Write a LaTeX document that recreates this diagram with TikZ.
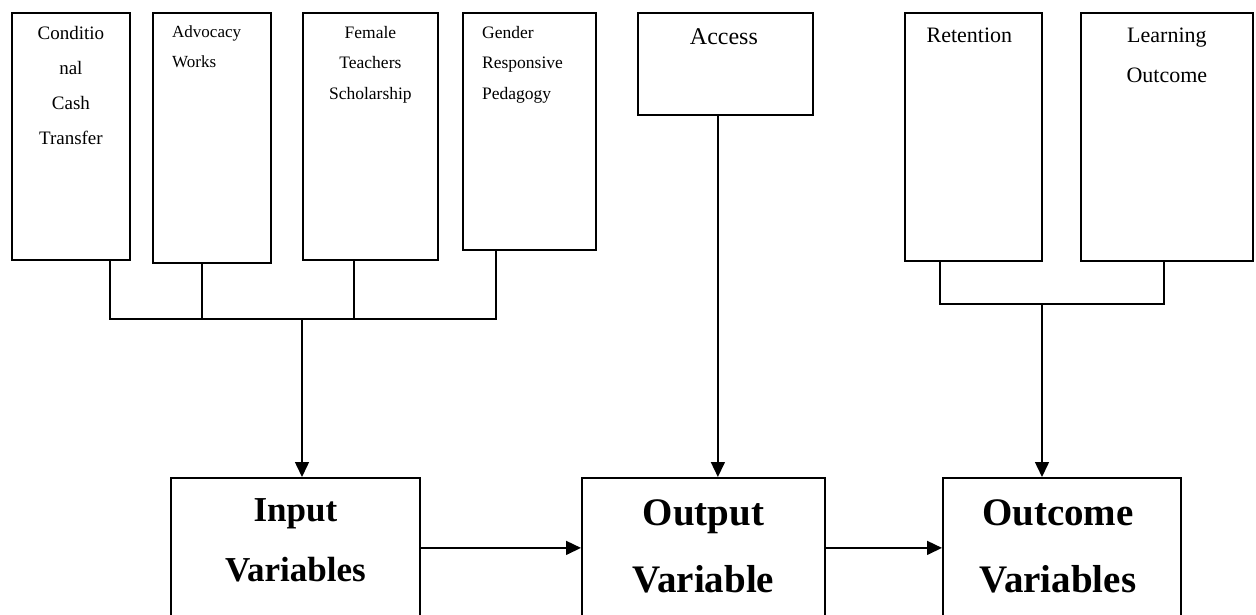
\documentclass[tikz,border=0pt]{standalone}
\usepackage{fontspec}
\setmainfont{Liberation Serif}
\usetikzlibrary{arrows.meta, positioning}

\begin{document}
\begin{tikzpicture}[x=1pt, y=-1pt,
  frame/.style={rectangle, draw=black, line width=1.8pt, anchor=north west,
                inner sep=0pt},
  lbl/.style={inner sep=0pt, anchor=north},
  link/.style={line width=1.6pt},
  arrow/.style={-{Triangle[length=15pt, width=14pt]}, line width=1.5pt}
]
  \useasboundingbox (0,0) rectangle (1256,615);
  \clip (0,0) rectangle (1256,615);

  \node[frame, minimum width=118pt, minimum height=247pt] (cct)  at (11,12)   {};
  \node[frame, minimum width=118pt, minimum height=250pt] (adv)  at (152,12)  {};
  \node[frame, minimum width=135pt, minimum height=247pt] (fts)  at (302,12)  {};
  \node[frame, minimum width=133pt, minimum height=237pt] (grp)  at (462,12)  {};
  \node[frame, minimum width=175pt, minimum height=102pt] (acc)  at (637,12)  {};
  \node[frame, minimum width=137pt, minimum height=248pt] (ret)  at (904,12)  {};
  \node[frame, minimum width=172pt, minimum height=248pt] (lo)   at (1080,12) {};
  \node[frame, minimum width=249pt, minimum height=140pt] (inp)  at (170,477) {};
  \node[frame, minimum width=243pt, minimum height=140pt] (outp) at (581,477) {};
  \node[frame, minimum width=238pt, minimum height=140pt] (outc) at (942,477) {};

  \node[lbl, align=center, font=\fontsize{19}{35}\selectfont] (cctl)
        at ([yshift=-14.5pt]cct.north) {Conditio\\nal\\Cash\\Transfer};
  \node[lbl, anchor=north west, align=left, font=\fontsize{17}{30}\selectfont] (advl)
        at ([xshift=20pt, yshift=-14pt]adv.north west) {Advocacy\\Works};
  \node[lbl, align=center, font=\fontsize{17.5}{30.5}\selectfont] (ftsl)
        at ([yshift=-14pt]fts.north) {Female\\Teachers\\Scholarship};
  \node[lbl, anchor=north west, align=left, font=\fontsize{17.5}{30.5}\selectfont] (grpl)
        at ([xshift=20pt, yshift=-14pt]grp.north west) {Gender\\Responsive\\Pedagogy};
  \node[lbl, font=\fontsize{24}{30}\selectfont] (accl)
        at ([xshift=-1.5pt, yshift=-16.6pt]acc.north) {Access};
  \node[lbl, font=\fontsize{22}{40}\selectfont] (retl)
        at ([xshift=-4pt, yshift=-15.3pt]ret.north) {Retention};
  \node[lbl, align=center, font=\fontsize{22}{40}\selectfont] (lol)
        at ([yshift=-15.3pt]lo.north) {Learning\\Outcome};
  \node[lbl, align=center, font=\bfseries\fontsize{35}{60}\selectfont] (inpl)
        at ([yshift=-21pt]inp.north) {Input\\Variables};
  \node[lbl, align=center, font=\bfseries\fontsize{39}{67}\selectfont] (outpl)
        at ([yshift=-22pt]outp.north) {Output\\Variable};
  \node[lbl, align=center, font=\bfseries\fontsize{39}{67}\selectfont] (outcl)
        at ([xshift=-4pt, yshift=-22pt]outc.north) {Outcome\\Variables};

  \coordinate (inbus) at (302,319);
  \draw[link] ([xshift=39pt]cct.south) |- (inbus);
  \draw[link] ([xshift=-10pt]adv.south) |- (inbus);
  \draw[link] ([xshift=-16.5pt]fts.south) |- (inbus);
  \draw[link] ([xshift=-33.5pt]grp.south) |- (inbus);
  \draw[arrow] (inbus) -- (inbus |- inp.north);

  \coordinate (accdrop) at ([xshift=-7.5pt]acc.south);
  \draw[arrow] (accdrop) -- (accdrop |- outp.north);

  \coordinate (outbus) at (1042,304);
  \draw[link] ([xshift=-33.5pt]ret.south) |- (outbus);
  \draw[link] ([xshift=-3pt]lo.south) |- (outbus);
  \draw[arrow] (outbus) -- (outbus |- outc.north);

  \draw[arrow] (inp) -- (outp);
  \draw[arrow] (outp) -- (outc);
\end{tikzpicture}
\end{document}
